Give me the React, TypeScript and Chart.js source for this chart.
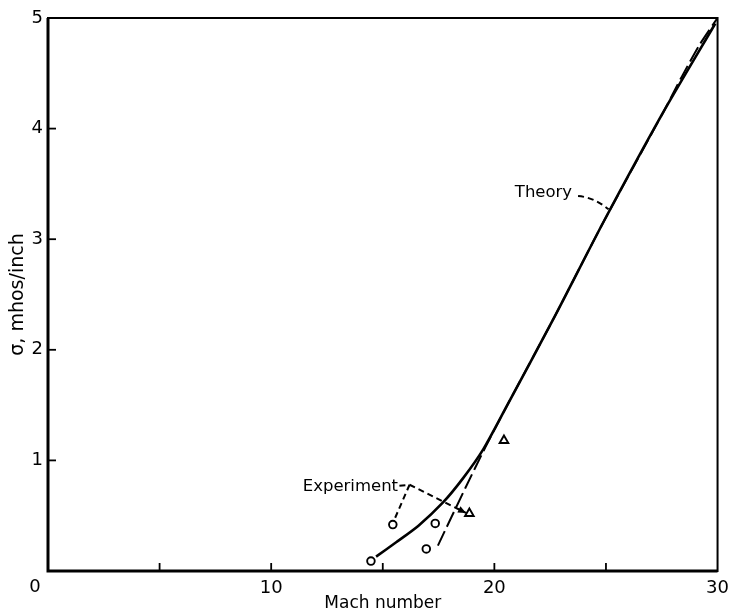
import React, { useEffect, useRef } from "react";
import { Chart, registerables } from "chart.js";

Chart.register(...registerables);

// ---- data ----
const theoryMach = [14.7, 15.6, 16.6, 17.7, 18.6, 19.5, 20.5, 22.7, 24.9, 27.6, 29.9];
const theorySigma = [0.13, 0.26, 0.41, 0.62, 0.84, 1.1, 1.47, 2.3, 3.16, 4.16, 4.95];

const fitMach = [17.47, 18.7, 19.6, 20.5, 22.7, 24.9, 27.6, 28.4, 29.2, 30.0];
const fitSigma = [0.23, 0.75, 1.12, 1.47, 2.3, 3.16, 4.16, 4.47, 4.76, 5.0];

const circleMach = [14.47, 15.45, 16.95, 17.35];
const circleSigma = [0.09, 0.42, 0.2, 0.43];

const triangleMach = [18.88, 20.43];
const triangleSigma = [0.52, 1.18];

const xTickLabels = [10, 20, 30];
const yTickLabels = [1, 2, 3, 4, 5];

const xTitle = "Mach number";
const yTitle = "σ, mhos/inch";

// annotation anchors in data coordinates
const theoryText = { text: "Theory", mach: 22.2, sigma: 3.42 };
const theoryLeader = [
  [23.75, 3.39],
  [24.45, 3.38],
  [25.12, 3.27],
];
const experimentText = { text: "Experiment", mach: 13.55, sigma: 0.76 };
const experimentJunction = [16.2, 0.78];
const experimentToCircle = [15.53, 0.47];
const experimentToTriangle = [18.73, 0.525];

const FONT = "'DejaVu Sans', sans-serif";

const toXY = (xs: number[], ys: number[]) => xs.map((x, i) => ({ x, y: ys[i] }));

const overlayPlugin = {
  id: "overlay",
  afterDraw(chart: any) {
    const { ctx, chartArea: a } = chart;
    const xs = chart.scales.x;
    const ys = chart.scales.y;
    const px = (v: number) => xs.getPixelForValue(v);
    const py = (v: number) => ys.getPixelForValue(v);
    ctx.save();
    ctx.strokeStyle = "#000";
    ctx.fillStyle = "#000";
    // frame
    ctx.lineWidth = 2;
    ctx.strokeRect(a.left, a.top, a.right - a.left, a.bottom - a.top);
    ctx.lineWidth = 3;
    ctx.beginPath();
    ctx.moveTo(a.left, a.top);
    ctx.lineTo(a.left, a.bottom);
    ctx.lineTo(a.right, a.bottom);
    ctx.stroke();
    // inward ticks
    ctx.lineWidth = 1.8;
    xs.ticks.forEach((t: any) => {
      if (t.value <= xs.min || t.value >= xs.max) return;
      const x = px(t.value);
      ctx.beginPath();
      ctx.moveTo(x, a.bottom);
      ctx.lineTo(x, a.bottom - 8);
      ctx.stroke();
    });
    ys.ticks.forEach((t: any) => {
      if (t.value <= ys.min || t.value >= ys.max) return;
      const y = py(t.value);
      ctx.beginPath();
      ctx.moveTo(a.left, y);
      ctx.lineTo(a.left + 8, y);
      ctx.stroke();
    });
    // shared origin label
    ctx.font = `18px ${FONT}`;
    ctx.textAlign = "center";
    ctx.textBaseline = "middle";
    ctx.fillText("0", px(0) - 13, py(0) + 16);

    // annotation texts
    ctx.font = `16.5px ${FONT}`;
    ctx.fillText(theoryText.text, px(theoryText.mach), py(theoryText.sigma));
    ctx.fillText(experimentText.text, px(experimentText.mach), py(experimentText.sigma));

    // leaders
    ctx.lineWidth = 2;
    ctx.setLineDash([6, 4]);
    ctx.beginPath();
    ctx.moveTo(px(theoryLeader[0][0]), py(theoryLeader[0][1]));
    ctx.quadraticCurveTo(
      px(theoryLeader[1][0]),
      py(theoryLeader[1][1]),
      px(theoryLeader[2][0]),
      py(theoryLeader[2][1])
    );
    ctx.stroke();

    const jx = px(experimentJunction[0]);
    const jy = py(experimentJunction[1]);
    const textEnd = px(experimentText.mach) + 49;
    ctx.beginPath();
    ctx.moveTo(textEnd, jy + 1);
    ctx.lineTo(jx, jy);
    ctx.stroke();
    ctx.beginPath();
    ctx.moveTo(jx, jy);
    ctx.lineTo(px(experimentToCircle[0]), py(experimentToCircle[1]));
    ctx.stroke();
    const tx = px(experimentToTriangle[0]);
    const ty = py(experimentToTriangle[1]);
    ctx.beginPath();
    ctx.moveTo(jx, jy);
    ctx.lineTo(tx, ty);
    ctx.stroke();
    ctx.setLineDash([]);
    // arrow head
    const ang = Math.atan2(ty - jy, tx - jx);
    const L = 8;
    const W = 3.5;
    ctx.beginPath();
    ctx.moveTo(tx, ty);
    ctx.lineTo(tx - L * Math.cos(ang) + W * Math.sin(ang), ty - L * Math.sin(ang) - W * Math.cos(ang));
    ctx.lineTo(tx - L * Math.cos(ang) - W * Math.sin(ang), ty - L * Math.sin(ang) + W * Math.cos(ang));
    ctx.closePath();
    ctx.fill();
    ctx.restore();
  },
};

export default function App() {
  const canvasRef = useRef<HTMLCanvasElement>(null);

  useEffect(() => {
    const canvas = canvasRef.current;
    if (!canvas) return;
    const chart = new Chart(canvas, {
      type: "scatter",
      data: {
        datasets: [
          {
            label: "Theory",
            data: toXY(theoryMach, theorySigma),
            showLine: true,
            borderColor: "#000",
            borderWidth: 2.6,
            pointRadius: 0,
            tension: 0.25,
            fill: false,
          },
          {
            label: "Experiment fit",
            data: toXY(fitMach, fitSigma),
            showLine: true,
            borderColor: "#000",
            borderWidth: 2,
            borderDash: [16, 5],
            pointRadius: 0,
            tension: 0.25,
            fill: false,
          },
          {
            label: "Experiment (circles)",
            data: toXY(circleMach, circleSigma),
            pointStyle: "circle",
            pointRadius: 3.8,
            borderWidth: 1.9,
            borderColor: "#000",
            backgroundColor: "#fff",
          },
          {
            label: "Experiment (triangles)",
            data: toXY(triangleMach, triangleSigma),
            pointStyle: "triangle",
            pointRadius: 5,
            borderWidth: 1.9,
            borderColor: "#000",
            backgroundColor: "#fff",
          },
        ],
      },
      options: {
        animation: false,
        responsive: false,
        layout: { padding: { left: 0, right: 12, top: 18, bottom: 0 } },
        plugins: {
          legend: { display: false },
          tooltip: { enabled: false },
        },
        scales: {
          x: {
            type: "linear",
            min: 0,
            max: 30,
            grid: { display: false, drawTicks: false },
            border: { display: false },
            ticks: {
              stepSize: 5,
              autoSkip: false,
              maxRotation: 0,
              padding: 7,
              color: "#000",
              font: { family: FONT, size: 18 },
              callback: (v: any) => (xTickLabels.includes(Number(v)) ? String(v) : ""),
            },
            title: {
              display: true,
              text: xTitle,
              color: "#000",
              font: { family: FONT, size: 17, lineHeight: 1 },
              padding: { top: 0, bottom: 0 },
            },
            afterFit: (s: any) => {
              s.height = 41;
            },
          },
          y: {
            type: "linear",
            min: 0,
            max: 5,
            grid: { display: false, drawTicks: false },
            border: { display: false },
            ticks: {
              stepSize: 1,
              padding: 5,
              color: "#000",
              font: { family: FONT, size: 18 },
              callback: (v: any) => (yTickLabels.includes(Number(v)) ? String(v) : ""),
            },
            title: {
              display: true,
              text: yTitle,
              color: "#000",
              font: { family: FONT, size: 19, lineHeight: 1 },
              padding: { top: 9, bottom: 0 },
            },
            afterFit: (s: any) => {
              s.width = 48;
            },
          },
        },
      },
      plugins: [overlayPlugin],
    });
    return () => chart.destroy();
  }, []);

  return (
    <div style={{ position: "fixed", left: 0, top: 0, width: 736, height: 612, background: "#fff" }}>
      <canvas ref={canvasRef} width={736} height={612} style={{ width: 736, height: 612, display: "block" }} />
    </div>
  );
}
